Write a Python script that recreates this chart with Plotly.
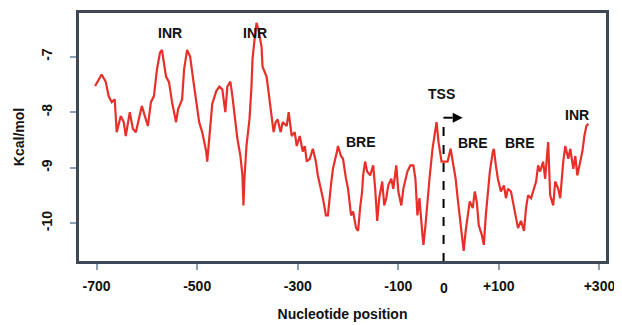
import plotly.graph_objects as go

# Nucleotide position (relative to TSS) and free energy (Kcal/mol)
position = [-703, -690, -682, -676, -670, -664, -660, -652, -646, -642, -634, -628, -622, -616,
            -610, -602, -598, -592, -586, -580, -574, -570, -566, -562, -556, -550, -542, -538,
            -530, -526, -520, -514, -508, -502, -496, -490, -482, -480, -476, -470, -462, -456,
            -450, -444, -440, -434, -430, -424, -420, -414, -410, -408, -406, -402, -396, -392,
            -390, -386, -382, -378, -372, -370, -362, -358, -352, -348, -344, -340, -334, -330,
            -322, -318, -312, -306, -302, -296, -290, -286, -282, -276, -270, -264, -260, -254,
            -250, -244, -240, -234, -230, -222, -220, -214, -210, -204, -200, -194, -190, -184,
            -180, -176, -172, -170, -166, -162, -156, -150, -146, -142, -138, -132, -128, -124,
            -120, -114, -110, -104, -100, -94, -90, -82, -76, -70, -66, -62, -58, -52, -50, -46,
            -42, -38, -32, -28, -24, -20, -14, -10, -2, 4, 10, 14, 18, 20, 24, 28, 30, 34, 38, 42,
            48, 52, 56, 60, 66, 70, 74, 78, 82, 88, 90, 94, 98, 104, 110, 114, 118, 124, 130, 134,
            138, 144, 150, 154, 158, 164, 170, 174, 178, 182, 188, 192, 198, 202, 208, 212, 218,
            222, 228, 232, 238, 242, 248, 252, 256, 260, 266, 270, 274, 278]
energy = [-7.53, -7.32, -7.45, -7.71, -7.82, -7.77, -8.36, -8.07, -8.18, -8.43, -8.00, -8.30, -8.36, -8.13,
          -7.89, -8.13, -8.25, -7.82, -7.71, -7.23, -6.93, -6.88, -7.11, -7.36, -7.46, -7.82, -8.18, -7.95,
          -7.77, -7.23, -6.88, -7.00, -7.41, -7.77, -8.18, -8.36, -8.71, -8.89, -8.48, -7.85, -7.62, -7.54,
          -7.59, -8.00, -7.54, -7.45, -7.71, -8.13, -8.48, -8.79, -9.14, -9.68, -9.20, -8.61, -8.13, -7.54,
          -7.05, -6.70, -6.39, -6.52, -6.82, -7.18, -7.36, -7.64, -8.07, -8.36, -8.18, -8.13, -8.36, -8.18,
          -8.25, -8.00, -8.43, -8.36, -8.61, -8.43, -8.71, -8.61, -8.89, -8.84, -8.66, -8.89, -9.14, -9.38,
          -9.55, -9.86, -9.86, -9.32, -9.02, -8.71, -8.61, -8.79, -8.84, -9.20, -9.38, -9.86, -9.79, -10.09,
          -10.14, -9.73, -9.43, -9.14, -8.89, -9.07, -9.14, -8.96, -9.38, -9.96, -9.55, -9.25, -9.68, -9.55,
          -9.32, -9.20, -9.38, -8.96, -9.43, -9.68, -9.38, -9.07, -8.96, -8.96, -9.20, -9.86, -9.55, -10.21, -10.39, -10.04,
          -9.55, -9.20, -8.66, -8.43, -8.18, -8.54, -8.89, -8.89, -8.89, -8.66, -8.96, -9.20, -9.55, -9.73, -10.09, -10.39, -10.50, -10.14, -9.86, -9.61,
          -9.73, -9.43, -9.61, -10.04, -10.21, -10.39, -9.86, -9.38, -9.07, -8.71, -8.66, -8.96, -9.20, -9.43, -9.32, -9.55, -9.38, -9.43, -9.73, -9.91,
          -10.09, -9.96, -10.14, -9.73, -9.50, -9.55, -9.38, -9.25, -8.96, -9.07, -8.89, -9.20, -8.54, -9.50, -9.68, -9.25, -9.38,
          -9.55, -8.89, -8.61, -8.84, -8.66, -9.02, -8.79, -9.14, -8.96, -8.71, -8.43, -8.25, -8.21]

x_ticks = [-700, -500, -300, -100, 100, 300]
x_tick_labels = ["-700", "-500", "-300", "-100", "+100", "+300"]
y_ticks = [-10, -9, -8, -7]
y_tick_labels = ["-10", "-9", "-8", "-7"]

motif_labels = ["INR", "INR", "TSS", "BRE", "BRE", "BRE", "INR"]
motif_x = [-554, -385, -15, -174, 49, 142, 256]
motif_y = [-6.57, -6.57, -7.67, -8.54, -8.56, -8.56, -8.05]

tss_x = -10
tss_top = -8.10

FONT = "Liberation Sans, Arial, sans-serif"
BOLD = dict(family=FONT, size=14, color="#111", weight="bold")

fig = go.Figure()
fig.add_trace(go.Scatter(x=position, y=energy, mode="lines",
                         line=dict(color="#e8302a", width=2.2), showlegend=False,
                         hoverinfo="skip"))

# TSS dashed bent arrow
fig.add_shape(type="line", x0=tss_x, x1=tss_x, y0=-10.70, y1=tss_top,
              line=dict(color="black", width=2, dash="dash"))
fig.add_shape(type="line", x0=tss_x, x1=tss_x + 24, y0=tss_top, y1=tss_top,
              line=dict(color="black", width=2, dash="dash"))
fig.add_annotation(x=tss_x + 38, y=tss_top, ax=tss_x + 22, ay=tss_top,
                   xref="x", yref="y", axref="x", ayref="y",
                   showarrow=True, arrowhead=2, arrowsize=1, arrowwidth=2,
                   arrowcolor="black", text="")

# plot frame
fig.add_shape(type="rect", xref="paper", yref="paper", x0=0, x1=1, y0=0, y1=1,
              line=dict(color="#3f4955", width=2), fillcolor="rgba(0,0,0,0)", layer="above")

for t, xv, yv in zip(motif_labels, motif_x, motif_y):
    fig.add_annotation(x=xv, y=yv, text=t, showarrow=False, font=BOLD)

# "0" label under the TSS line
fig.add_annotation(x=tss_x, y=0, yref="paper", yanchor="middle", yshift=-26,
                   text="0", showarrow=False, font=BOLD)

# page body has an 8px default margin, so the figure is sized to fill the rest of the window
fig.update_layout(
    template="none",
    width=614, height=317,
    margin=dict(l=70, r=15, t=4, b=63, autoexpand=False),
    paper_bgcolor="white", plot_bgcolor="white",
    font=dict(family=FONT, size=14, color="#111"),
)
fig.update_xaxes(range=[-737, 315], tickvals=x_ticks, ticktext=x_tick_labels,
                 automargin=False,
                 showgrid=False, zeroline=False, showline=True, mirror=True,
                 linecolor="#3f4955", linewidth=2, ticks="outside", ticklen=6,
                 tickcolor="#8ba0b2", tickwidth=1.5, ticklabelstandoff=4,
                 tickfont=BOLD,
                 title=dict(text="Nucleotide position", standoff=16, font=BOLD))
fig.update_yaxes(range=[-10.70, -6.195], tickvals=y_ticks, ticktext=y_tick_labels,
                 automargin=False,
                 showgrid=False, zeroline=False, showline=True, mirror=True,
                 linecolor="#3f4955", linewidth=2, ticks="outside", ticklen=6,
                 tickcolor="#8ba0b2", tickwidth=1.5, tickangle=-90, ticklabelstandoff=12,
                 tickfont=BOLD,
                 title=dict(text="Kcal/mol", standoff=12, font=BOLD))

fig.write_html("out.html")
